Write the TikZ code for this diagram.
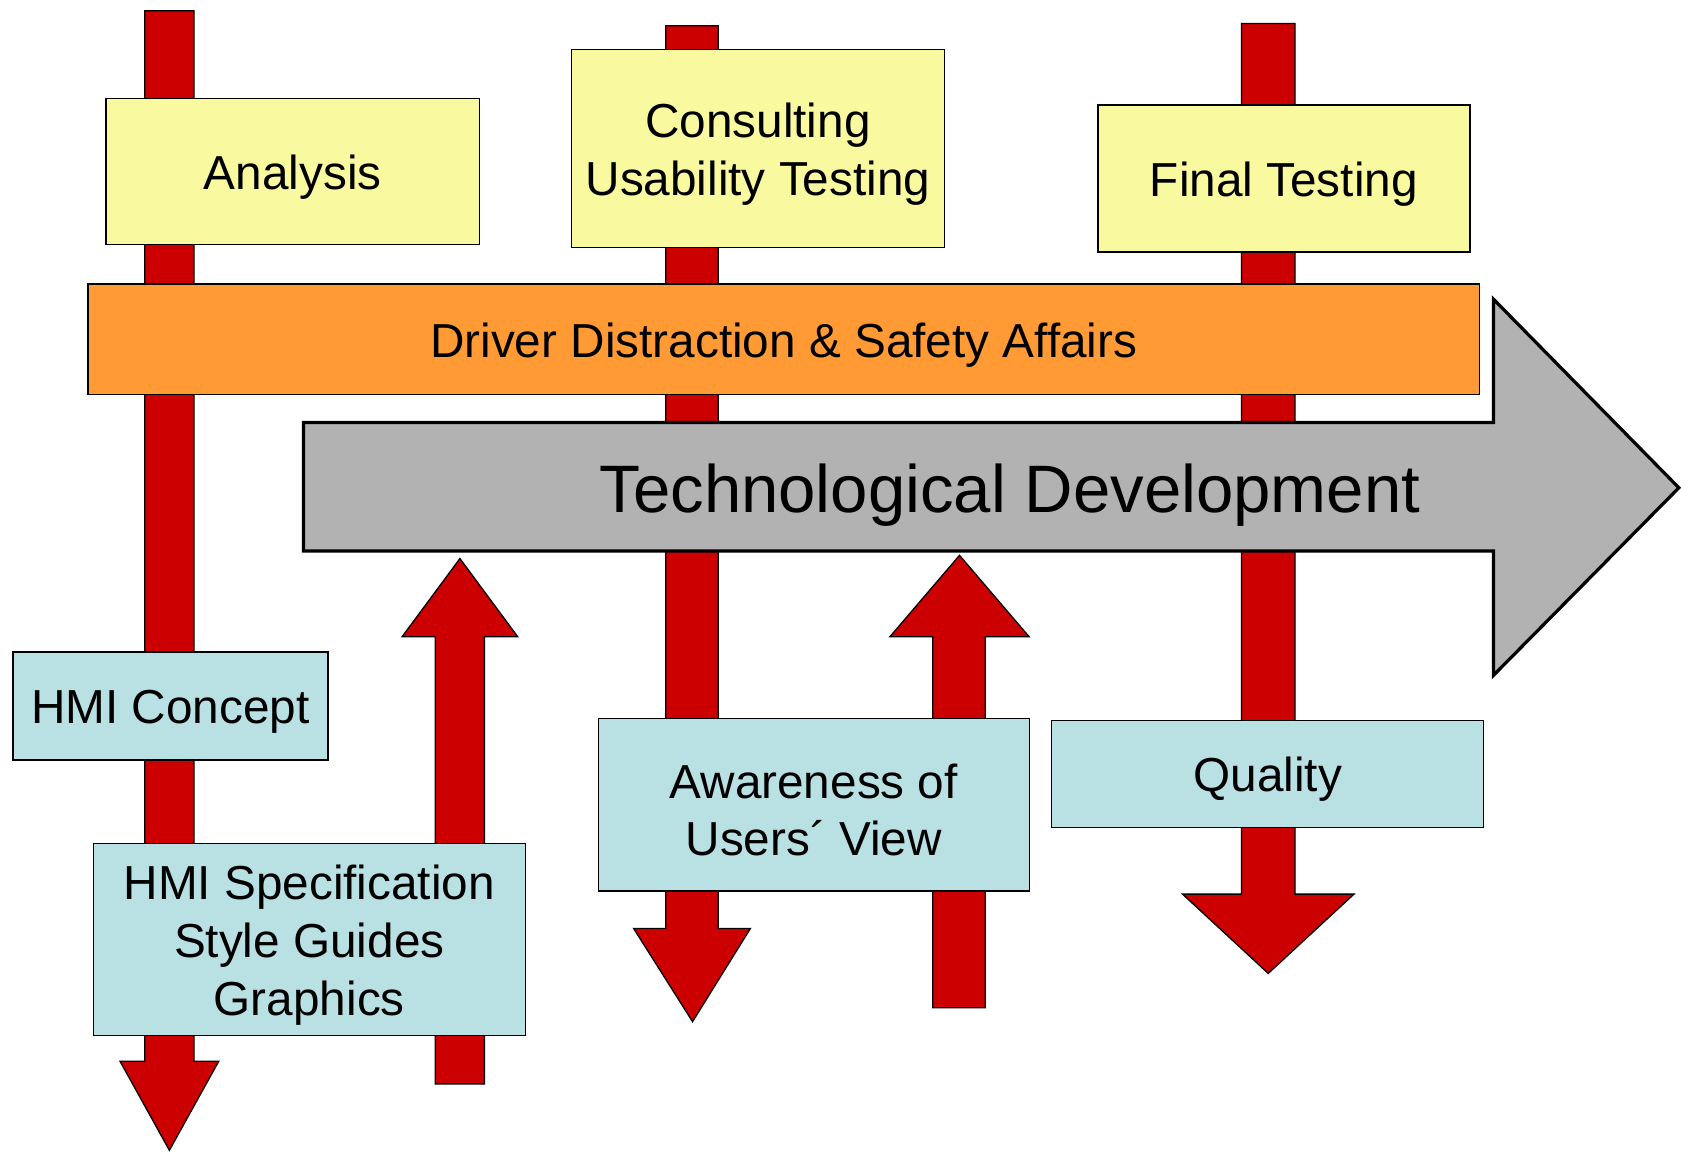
\documentclass[tikz,border=0pt]{standalone}
\usepackage{fontspec}
\setmainfont{Liberation Sans}
\definecolor{redarr}{HTML}{CC0000}
\definecolor{yelbox}{HTML}{F9F9A0}
\definecolor{orabox}{HTML}{FF9A35}
\definecolor{grayarr}{HTML}{B2B2B2}
\definecolor{bluebox}{HTML}{B9E0E3}
\tikzset{
  redshape/.style={fill=redarr, draw=black, line width=1.2pt, line join=miter},
  boxbase/.style={draw=black, line width=1.3pt, inner sep=0pt},
  yellowbox/.style={boxbase, fill=yelbox},
  orangebox/.style={boxbase, fill=orabox},
  bluebx/.style={boxbase, fill=bluebox},
  boxtext/.style={align=center, inner sep=0pt, yshift=-5pt,
     font=\fontsize{44.5}{54}\selectfont},
  grayshape/.style={fill=grayarr, draw=black, line width=3pt, line join=miter}
}
\begin{document}
\begin{tikzpicture}[x=1pt,y=-1pt]
\useasboundingbox (0,0) rectangle (1568,1075);
% red down arrows
\draw[redshape] (135,10) -- (181,10) -- (181,990) -- (204,990) -- (158,1073) -- (112,990) -- (135,990) -- cycle;
\draw[redshape] (621,24) -- (670,24) -- (670,866) -- (700,866) -- (646,953) -- (591,866) -- (621,866) -- cycle;
\draw[redshape] (1158,22) -- (1208,22) -- (1208,834) -- (1263,834) -- (1183,908) -- (1103,834) -- (1158,834) -- cycle;
% red up arrows
\draw[redshape] (406,1011) -- (452,1011) -- (452,594) -- (483,594) -- (429,521) -- (375,594) -- (406,594) -- cycle;
\draw[redshape] (870,940) -- (919,940) -- (919,594) -- (960,594) -- (895,518) -- (830,594) -- (870,594) -- cycle;
% gray arrow
\draw[grayshape] (283,394) -- (1393,394) -- (1393,279) -- (1566,455) -- (1393,630) -- (1393,514) -- (283,514) -- cycle;
\node[inner sep=0pt, yshift=-5pt, font=\fontsize{62.6}{70}\selectfont] (tech) at (942,457) {Technological Development};
% yellow boxes
\node[yellowbox, minimum width=348pt, minimum height=136pt] (analysis) at (273,160) {};
\node[boxtext] (analysisT) at (analysis.center) {Analysis};
\node[yellowbox, minimum width=348pt, minimum height=185pt] (consult) at (707,138.5) {};
\node[boxtext] (consultT) at (consult.center) {Consulting\\Usability Testing};
\node[yellowbox, minimum width=347pt, minimum height=137pt] (final) at (1197.5,166.5) {};
\node[boxtext] (finalT) at (final.center) {Final Testing};
% orange bar
\node[orangebox, minimum width=1298pt, minimum height=103pt] (driver) at (731,316.5) {};
\node[boxtext] (driverT) at (driver.center) {Driver Distraction \& Safety Affairs};
% blue boxes
\node[bluebx, minimum width=294pt, minimum height=101pt] (concept) at (159,658.5) {};
\node[boxtext] (conceptT) at (concept.center) {HMI Concept};
\node[bluebx, minimum width=403pt, minimum height=179pt] (spec) at (288.5,876.5) {};
\node[boxtext] (specT) at (spec.center) {HMI Specification\\Style Guides\\Graphics};
\node[bluebx, minimum width=402pt, minimum height=161pt] (aware) at (759,750.5) {};
\node[boxtext] (awareT) at (aware.center) {Awareness of\\Users´ View};
\node[bluebx, minimum width=403pt, minimum height=100pt] (quality) at (1182.5,722) {};
\node[boxtext] (qualityT) at (quality.center) {Quality};
\end{tikzpicture}
\end{document}
